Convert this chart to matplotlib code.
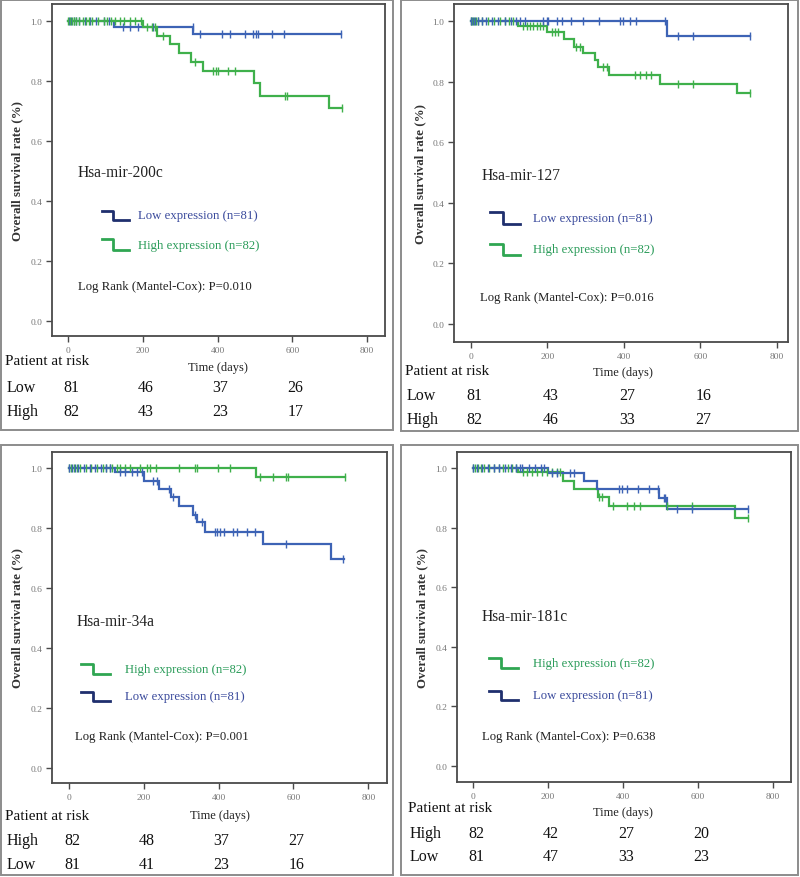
import matplotlib
matplotlib.use('Agg')
import matplotlib.pyplot as plt
from matplotlib.patches import Rectangle
from matplotlib.lines import Line2D
from matplotlib.transforms import blended_transform_factory
import numpy as np

plt.rcParams['font.family'] = ['Liberation Serif', 'DejaVu Serif']

# ---------------- data ----------------
risk_days = [0, 200, 400, 600]
x_ticks = [0, 200, 400, 600, 800]
y_ticks = [0.0, 0.2, 0.4, 0.6, 0.8, 1.0]

titles = ['Hsa-mir-200c', 'Hsa-mir-127', 'Hsa-mir-34a', 'Hsa-mir-181c']
p_values = ['0.010', '0.016', '0.001', '0.638']
low_label = 'Low expression (n=81)'
high_label = 'High expression (n=82)'

# mir-200c
low_200c_times = [123, 335]
low_200c_surv = [0.981, 0.958]
low_200c_end = 729
low_200c_cens = [2, 8, 15, 22, 30, 45, 60, 75, 95, 110, 148, 166, 188, 228, 333,
                 353, 411, 433, 473, 496, 504, 509, 545, 578, 729]
high_200c_times = [201, 238, 273, 297, 328, 362, 497, 513, 699]
high_200c_surv = [0.980, 0.949, 0.923, 0.893, 0.864, 0.834, 0.793, 0.751, 0.709]
high_200c_end = 732
high_200c_cens = [0, 5, 10, 15, 20, 28, 40, 48, 55, 65, 80, 95, 105, 115, 125, 140,
                  150, 165, 180, 195, 210, 224, 233, 255, 340, 389, 396, 402, 429,
                  447, 580, 585, 732]
low_200c_risk = [81, 46, 37, 26]
high_200c_risk = [82, 43, 23, 17]

# mir-127
low_127_times = [512]
low_127_surv = [0.951]
low_127_end = 729
low_127_cens = [0, 5, 12, 20, 28, 40, 55, 70, 90, 105, 118, 128, 141, 189, 198, 202,
                224, 237, 263, 294, 335, 390, 398, 416, 433, 507, 542, 580, 729]
high_127_times = [123, 200, 243, 269, 293, 324, 333, 361, 494, 696]
high_127_surv = [0.984, 0.964, 0.940, 0.915, 0.893, 0.870, 0.848, 0.821, 0.793, 0.762]
high_127_end = 729
high_127_cens = [0, 3, 8, 14, 20, 30, 45, 60, 75, 88, 100, 110, 137, 146, 154, 163,
                 172, 180, 189, 211, 220, 228, 276, 285, 346, 355, 429, 442, 459,
                 472, 542, 581, 729]
low_127_risk = [81, 43, 27, 16]
high_127_risk = [82, 46, 33, 27]

# mir-34a
high_34a_times = [500]
high_34a_surv = [0.971]
high_34a_end = 738
high_34a_cens = [0, 5, 12, 20, 30, 45, 60, 75, 90, 100, 110, 115, 127, 136, 150, 163,
                 190, 208, 217, 233, 295, 337, 341, 399, 430, 511, 545, 580, 586, 738]
low_34a_times = [123, 200, 240, 272, 295, 331, 342, 364, 518, 700]
low_34a_surv = [0.985, 0.956, 0.930, 0.903, 0.873, 0.844, 0.820, 0.787, 0.745, 0.698]
low_34a_end = 735
low_34a_cens = [0, 8, 15, 25, 40, 55, 70, 85, 100, 110, 136, 150, 168, 181, 194, 225,
                234, 266, 279, 337, 355, 390, 395, 404, 413, 439, 448, 475, 497,
                580, 733]
high_34a_risk = [82, 48, 37, 27]
low_34a_risk = [81, 41, 23, 16]

# mir-181c
low_181c_times = [199, 297, 330, 497, 516]
low_181c_surv = [0.983, 0.956, 0.930, 0.900, 0.864]
low_181c_end = 734
low_181c_cens = [0, 10, 25, 40, 55, 70, 85, 100, 115, 125, 130, 150, 165, 180, 190,
                 210, 223, 259, 268, 388, 396, 410, 441, 468, 494, 508, 512, 543,
                 585, 734]
high_181c_times = [120, 240, 269, 333, 363, 699]
high_181c_surv = [0.986, 0.958, 0.930, 0.903, 0.873, 0.833]
high_181c_end = 734
high_181c_cens = [0, 6, 14, 22, 30, 42, 55, 68, 80, 92, 105, 115, 134, 143, 156, 170,
                  183, 196, 210, 223, 232, 337, 343, 374, 410, 428, 445, 516, 583, 734]
high_181c_risk = [82, 42, 27, 20]
low_181c_risk = [81, 47, 33, 23]

# ---------------- style ----------------
BLUE = '#3d63b5'
GREEN = '#3fb04b'
BLUE_LEG = '#1f2f6e'
GREEN_LEG = '#2fa652'
BLUE_TXT = '#3a4a9c'
GREEN_TXT = '#2b9c5a'
FRAME = '#4a4a4a'
BOX = '#8c8c8c'
TICKC = '#777777'

W, H = 800, 878
fig = plt.figure(figsize=(W / 100, H / 100), dpi=100)


def fx(px):
    return px / W


def fy(py):
    return 1 - py / H


def step_xy(times, surv, end):
    xs = [0]
    ys = [1.0]
    cur = 1.0
    for t, s in zip(times, surv):
        xs += [t, t]
        ys += [cur, s]
        cur = s
    xs.append(end)
    ys.append(cur)
    return xs, ys


def surv_at(t, times, surv):
    val = 1.0
    for tt, s in zip(times, surv):
        if t >= tt:
            val = s
    return val


groups = {
    'low': dict(color=BLUE, leg=BLUE_LEG, txt=BLUE_TXT, label=low_label, row='Low'),
    'high': dict(color=GREEN, leg=GREEN_LEG, txt=GREEN_TXT, label=high_label, row='High'),
}

panels = [
    dict(title=titles[0], p=p_values[0],
         series=[('low', low_200c_times, low_200c_surv, low_200c_end, low_200c_cens, low_200c_risk),
                 ('high', high_200c_times, high_200c_surv, high_200c_end, high_200c_cens, high_200c_risk)],
         draw_order=['low', 'high'],
         box=(1, 1, 393, 431), ax=(52, 5, 385, 337), xlim=(-43, 848), ylim=(-0.05, 1.057),
         title_xy=(78, 173), leg_x=(102, 129), leg_y=[(212, 221), (240, 251)], leg_tx=138,
         log_xy=(78, 287), ylab_x=17, time_xy=(218, 368), par_xy=(5, 362), rows_y=[388, 412]),
    dict(title=titles[1], p=p_values[1],
         series=[('low', low_127_times, low_127_surv, low_127_end, low_127_cens, low_127_risk),
                 ('high', high_127_times, high_127_surv, high_127_end, high_127_cens, high_127_risk)],
         draw_order=['high', 'low'],
         box=(401, 1, 798, 432), ax=(454, 5, 788, 343), xlim=(-44, 829), ylim=(-0.059, 1.056),
         title_xy=(482, 176), leg_x=(490, 520), leg_y=[(213, 225), (245, 256)], leg_tx=533,
         log_xy=(480, 298), ylab_x=420, time_xy=(623, 373), par_xy=(405, 372), rows_y=[396, 420]),
    dict(title=titles[2], p=p_values[2],
         series=[('high', high_34a_times, high_34a_surv, high_34a_end, high_34a_cens, high_34a_risk),
                 ('low', low_34a_times, low_34a_surv, low_34a_end, low_34a_cens, low_34a_risk)],
         draw_order=['high', 'low'],
         box=(1, 446, 393, 876), ax=(52, 453, 387, 784), xlim=(-45.5, 850), ylim=(-0.05, 1.053),
         title_xy=(77, 622), leg_x=(81, 110), leg_y=[(665, 675), (693, 702)], leg_tx=125,
         log_xy=(75, 737), ylab_x=17, time_xy=(220, 816), par_xy=(5, 817), rows_y=[841, 865]),
    dict(title=titles[3], p=p_values[3],
         series=[('high', high_181c_times, high_181c_surv, high_181c_end, high_181c_cens, high_181c_risk),
                 ('low', low_181c_times, low_181c_surv, low_181c_end, low_181c_cens, low_181c_risk)],
         draw_order=['high', 'low'],
         box=(401, 446, 798, 876), ax=(457, 453, 791, 783), xlim=(-42.7, 848), ylim=(-0.054, 1.054),
         title_xy=(482, 617), leg_x=(489, 518), leg_y=[(659, 669), (692, 701)], leg_tx=533,
         log_xy=(482, 737), ylab_x=422, time_xy=(623, 813), par_xy=(408, 809), rows_y=[834, 857]),
]

for P in panels:
    # outer box
    bx0, by0, bx1, by1 = P['box']
    fig.add_artist(Rectangle((fx(bx0), fy(by1)), fx(bx1 - bx0), (by1 - by0) / H,
                             transform=fig.transFigure, fill=False, edgecolor=BOX, lw=1.4))
    ax0, ay0, ax1, ay1 = P['ax']
    ax = fig.add_axes([fx(ax0), fy(ay1), fx(ax1 - ax0), (ay1 - ay0) / H])
    ax.set_xlim(*P['xlim'])
    ax.set_ylim(*P['ylim'])
    for sp in ax.spines.values():
        sp.set_color(FRAME)
        sp.set_linewidth(1.3)
    ax.set_xticks(x_ticks)
    ax.set_yticks(y_ticks)
    ax.set_yticklabels([f'{v:.1f}' for v in y_ticks])
    ax.tick_params(axis='both', direction='out', length=4, width=1.0, color=FRAME,
                   labelsize=6.8, labelcolor=TICKC, pad=3)

    ser = {s[0]: s for s in P['series']}
    for key in P['draw_order']:
        _, times, surv, end, cens, _r = ser[key]
        g = groups[key]
        xs, ys = step_xy(times, surv, end)
        ax.plot(xs, ys, color=g['color'], lw=1.6, solid_joinstyle='miter', zorder=3)
        cy = [surv_at(t, times, surv) for t in cens]
        ax.plot(cens, cy, linestyle='none', marker='|', ms=6, mew=1.0,
                color=g['color'], zorder=4)

    # title and legend
    tx, ty = P['title_xy']
    fig.text(fx(tx), fy(ty), P['title'], fontsize=11.2, va='center', ha='left', color='#222222')
    lx0, lx1 = P['leg_x']
    lmid = lx0 + (lx1 - lx0) * 0.42
    for (s, (yt, yb)) in zip(P['series'], P['leg_y']):
        g = groups[s[0]]
        fig.add_artist(Line2D([fx(lx0), fx(lmid), fx(lmid), fx(lx1)],
                              [fy(yt), fy(yt), fy(yb), fy(yb)],
                              transform=fig.transFigure, color=g['leg'], lw=2.0))
        fig.text(fx(P['leg_tx']), fy((yt + yb) / 2), g['label'], fontsize=9.2,
                 color=g['txt'], va='center', ha='left')
    lgx, lgy = P['log_xy']
    fig.text(fx(lgx), fy(lgy), f"Log Rank (Mantel-Cox): P={P['p']}", fontsize=9.2,
             va='center', ha='left', color='#222222')

    # y label
    fig.text(fx(P['ylab_x']), fy((ay0 + ay1) / 2), 'Overall survival rate (%)', rotation=90,
             fontsize=9.3, fontweight='bold', va='center', ha='center', color='#333333')
    # x label
    tlx, tly = P['time_xy']
    fig.text(fx(tlx), fy(tly), 'Time (days)', fontsize=9, va='center', ha='center',
             color='#222222')
    # risk table
    px_, py_ = P['par_xy']
    fig.text(fx(px_), fy(py_), 'Patient at risk', fontsize=11, va='center', ha='left',
             color='#111111')
    trans = blended_transform_factory(ax.transData, fig.transFigure)
    for s, ry in zip(P['series'], P['rows_y']):
        g = groups[s[0]]
        fig.text(fx(px_ + 2), fy(ry), g['row'], fontsize=11.5, va='center', ha='left',
                 color='#111111')
        for d, n in zip(risk_days, s[5]):
            ax.text(d + 8, fy(ry), str(n), transform=trans, fontsize=11.5, va='center',
                    ha='center', color='#111111', clip_on=False)

fig.savefig('out.png', dpi=100)
